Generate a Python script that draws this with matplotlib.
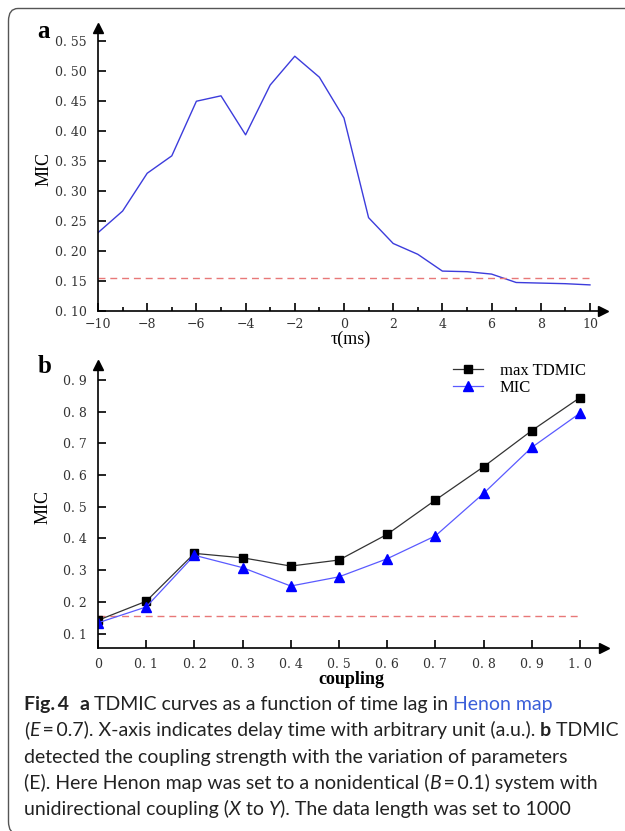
import numpy as np
import matplotlib.pyplot as plt
from matplotlib.patches import FancyBboxPatch

# panel a: MIC against time lag
tau = list(range(-10, 11))
mic_tau = [0.230, 0.266, 0.329, 0.358, 0.449, 0.458, 0.393, 0.476, 0.524, 0.489, 0.421,
           0.255, 0.212, 0.194, 0.166, 0.165, 0.161, 0.147, 0.146, 0.145, 0.143]
threshold_a = 0.155

# panel b: MIC against coupling strength
coupling = [0.0, 0.1, 0.2, 0.3, 0.4, 0.5, 0.6, 0.7, 0.8, 0.9, 1.0]
max_tdmic = [0.142, 0.202, 0.353, 0.339, 0.313, 0.332, 0.413, 0.521, 0.626, 0.740, 0.844]
mic_coupling = [0.134, 0.184, 0.347, 0.308, 0.250, 0.279, 0.336, 0.408, 0.542, 0.687, 0.795]
threshold_b = 0.156

a_xticks = list(range(-10, 11, 2))
a_yticks = [0.10, 0.15, 0.20, 0.25, 0.30, 0.35, 0.40, 0.45, 0.50, 0.55]
b_xticks = coupling
b_yticks = [0.1, 0.2, 0.3, 0.4, 0.5, 0.6, 0.7, 0.8, 0.9]

W, H = 625, 831
fig = plt.figure(figsize=(W / 100, H / 100), dpi=100)
serif = 'Liberation Serif'
tickfont = 'DejaVu Serif'


def px_axes(left, top, right, bottom):
    return fig.add_axes([left / W, 1 - bottom / H, (right - left) / W, (bottom - top) / H])


def style_axes(ax):
    for s in ['top', 'right']:
        ax.spines[s].set_visible(False)
    for s in ['left', 'bottom']:
        ax.spines[s].set_linewidth(1.2)
    ax.plot(1, 0, '>k', ms=7, transform=ax.transAxes, clip_on=False)
    ax.plot(0, 1, '^k', ms=7, transform=ax.transAxes, clip_on=False)
    ax.tick_params(which='major', direction='in', length=6, width=1.2, pad=8,
                   labelsize=9)
    ax.tick_params(which='minor', direction='in', length=3, width=1.2)
    for lab in ax.get_xticklabels() + ax.get_yticklabels():
        lab.set_family(tickfont)
        lab.set_color('#333333')


# ---- panel a ----
ax = px_axes(98, 28, 603, 310.7)
ax.plot(tau, mic_tau, color='#3c3cdc', lw=1.0)
ax.plot([tau[0], tau[-1]], [threshold_a] * 2, color='#e87878', lw=1.0, ls=(0, (5, 3.5)))
ax.set_xlim(-10, 10.53)
ax.set_ylim(0.10, 0.571)
ax.set_xticks(a_xticks)
ax.set_xticklabels([str(v).replace('-', '\u2212') for v in a_xticks])
ax.set_xticks(range(-9, 10, 2), minor=True)
ax.set_yticks(a_yticks)
ax.set_yticklabels([f'{v:.2f}'.replace('.', '. ') for v in a_yticks])
style_axes(ax)
ax.tick_params(axis='x', pad=5)
ax.set_ylabel('MIC', family=serif, fontsize=13, labelpad=2)
ax.set_xlabel('\u03c4(ms)', family=serif, fontsize=13, labelpad=0)
fig.text(37 / W, 1 - 38 / H, 'a', family=serif, weight='bold', fontsize=18)

# ---- panel b ----
ax = px_axes(98, 365, 604, 648)
ax.plot(coupling, [threshold_b] * len(coupling), color='#e87878', lw=1.0, ls=(0, (5, 3.5)))
ax.plot(coupling, max_tdmic, color='#333333', lw=0.9, marker='s', ms=5.5,
        mfc='black', mec='black', label='max TDMIC')
ax.plot(coupling, mic_coupling, color='#5a5aff', lw=0.9, marker='^', ms=6.5,
        mfc='#0000ff', mec='#0000ff', label='MIC')
ax.set_xlim(0, 1.05)
ax.set_ylim(0.0546, 0.947)
ax.set_xticks(b_xticks)
ax.set_xticklabels(['0'] + [f'{v:.1f}'.replace('.', '. ') for v in b_xticks[1:]])
ax.set_yticks(b_yticks)
ax.set_yticklabels([f'{v:.1f}'.replace('.', '. ') for v in b_yticks])
style_axes(ax)
ax.tick_params(axis='x', pad=7)
ax.set_ylabel('MIC', family=serif, fontsize=13, labelpad=8)
ax.set_xlabel('coupling', family=serif, weight='bold', fontsize=13, labelpad=0)
ax.legend(loc='upper left', bbox_to_anchor=(453 / W, 1 - 363 / H),
          bbox_transform=fig.transFigure, frameon=False, borderpad=0,
          borderaxespad=0, handlelength=1.8, handletextpad=1.0, labelspacing=0.05,
          numpoints=1, prop={'family': serif, 'size': 12})
fig.text(38 / W, 1 - 373 / H, 'b', family=serif, weight='bold', fontsize=18)

# ---- outer frame (right and bottom edges fall outside the image) ----
frame = FancyBboxPatch((8.5 / W, 1 - 834 / H), 700 / W, 825.5 / H,
                       boxstyle='round,pad=0,rounding_size=0.015',
                       transform=fig.transFigure, fill=False,
                       edgecolor='#555555', lw=1.0, clip_on=False)
fig.patches.append(frame)

# ---- caption ----
renderer = fig.canvas.get_renderer()
cap_font = ['Lato', 'DejaVu Sans']
base = dict(family=cap_font, color='#222222')


def run_width(text, size, style):
    t1 = fig.text(0, 0, '|' + text + '|', fontsize=size, **style)
    t2 = fig.text(0, 0, '||', fontsize=size, **style)
    w = t1.get_window_extent(renderer).width - t2.get_window_extent(renderer).width
    t1.remove()
    t2.remove()
    return w


ref_line = 'detected the coupling strength with the variation of parameters'
cap_size = 10 * 544 / run_width(ref_line, 10, base)

bold = dict(base, weight='bold')
ital = dict(base, style='italic')
link = dict(base, color='#3b5fd9')
caption = [
    [('Fig.\u20094', bold), ('  ', base), ('a', bold),
     (' TDMIC curves as a function of time lag in ', base), ('Henon map', link)],
    [('(', base), ('E', ital), ('\u2009=\u20090.7). X-axis indicates delay time with arbitrary unit (a.u.). ', base),
     ('b', bold), (' TDMIC', base)],
    [(ref_line, base)],
    [('(E). Here Henon map was set to a nonidentical (', base), ('B', ital),
     ('\u2009=\u20090.1) system with', base)],
    [('unidirectional coupling (', base), ('X', ital), (' to ', base), ('Y', ital),
     ('). The data length was set to 1000', base)],
]
for i, line in enumerate(caption):
    y = 710 + 26.25 * i
    x = 24
    for text, style in line:
        fig.text(x / W, 1 - y / H, text, fontsize=cap_size, va='baseline', ha='left', **style)
        x += run_width(text, cap_size, style)

plt.savefig('out.png', dpi=100)
